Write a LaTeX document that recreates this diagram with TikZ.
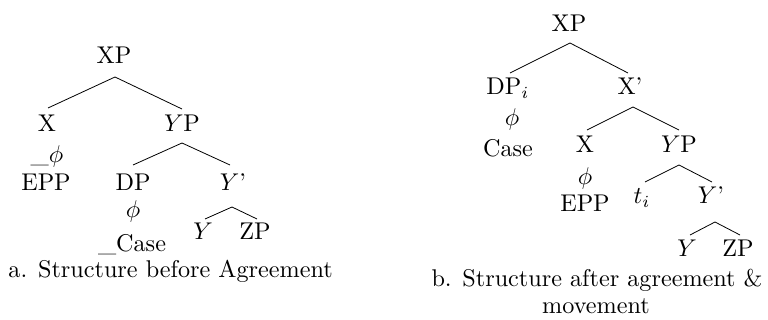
\documentclass[tikz,border=0pt]{standalone}
\begin{document}
\begin{tikzpicture}[x=1pt,y=-1pt,
  lbl/.style={font=\fontsize{10}{10.4}\selectfont, scale=2.42, transform shape, inner sep=0pt, anchor=base},
  branch/.style={line width=0.8pt}]
\useasboundingbox (0,0) rectangle (768,320);

% ---- (a) before agreement ----
\node[lbl] (aXP) at (114,64) {XP};
\node[lbl] (aX)  at (47,132) {X};
\node[lbl] (aYP) at (182,132) {$Y$P};
\node[lbl] (aXf) at (47,163) {\_$\phi$};
\node[lbl] (aXe) at (46,191) {EPP};
\node[lbl] (aDP) at (133,191) {DP};
\node[lbl] (aYb) at (233,191) {$Y$'};
\node[lbl] (aDf) at (133,218) {$\phi$};
\node[lbl] (aDc) at (132,252) {\_Case};
\node[lbl] (aY)  at (203,240) {$Y$};
\node[lbl] (aZP) at (255,240) {ZP};
\node[lbl, anchor=base west] (capA) at (8,278) {a. Structure before Agreement};

\draw[branch] ([xshift=1pt,yshift=-13pt]aXP.base) -- ([xshift=1pt,yshift=24pt]aX.base);
\draw[branch] ([xshift=1pt,yshift=-13pt]aXP.base) -- ([yshift=23pt]aYP.base);
\draw[branch] ([yshift=-11pt]aYP.base) -- ([yshift=26pt]aDP.base);
\draw[branch] ([yshift=-11pt]aYP.base) -- ([xshift=-3pt,yshift=26pt]aYb.base);
\draw[branch] ([xshift=-1pt,yshift=-16pt]aYb.base) -- ([xshift=2pt,yshift=21pt]aY.base);
\draw[branch] ([xshift=-1pt,yshift=-16pt]aYb.base) -- ([xshift=2pt,yshift=21pt]aZP.base);

% ---- (b) after agreement and movement ----
\node[lbl] (bXP) at (569,32) {XP};
\node[lbl] (bDP) at (508,95) {DP$_i$};
\node[lbl] (bXb) at (630,95) {X'};
\node[lbl] (bDf) at (512,126) {$\phi$};
\node[lbl] (bDc) at (508,157) {Case};
\node[lbl] (bX)  at (585,153) {X};
\node[lbl] (bYP) at (679,153) {$Y$P};
\node[lbl] (bXf) at (585,185) {$\phi$};
\node[lbl] (bXe) at (585,212) {EPP};
\node[lbl] (bt)  at (642,204) {$t_i$};
\node[lbl] (bYb) at (711,204) {$Y$'};
\node[lbl] (bY)  at (687,257) {$Y$};
\node[lbl] (bZP) at (738,257) {ZP};
\node[lbl] (capB1) at (597,287) {b. Structure after agreement \&};
\node[lbl] (capB2) at (596,313) {movement};

\draw[branch] ([xshift=1pt,yshift=-11pt]bXP.base) -- ([xshift=2pt,yshift=22pt]bDP.base);
\draw[branch] ([xshift=1pt,yshift=-11pt]bXP.base) -- ([xshift=-2pt,yshift=22pt]bXb.base);
\draw[branch] ([xshift=3pt,yshift=-12pt]bXb.base) -- ([xshift=2pt,yshift=23pt]bX.base);
\draw[branch] ([xshift=3pt,yshift=-12pt]bXb.base) -- ([yshift=23pt]bYP.base);
\draw[branch] ([yshift=-12pt]bYP.base) -- ([xshift=3pt,yshift=22pt]bt.base);
\draw[branch] ([yshift=-12pt]bYP.base) -- ([xshift=1pt,yshift=22pt]bYb.base);
\draw[branch] ([xshift=4pt,yshift=-18pt]bYb.base) -- ([xshift=3pt,yshift=22pt]bY.base);
\draw[branch] ([xshift=4pt,yshift=-18pt]bYb.base) -- ([xshift=2pt,yshift=22pt]bZP.base);
\end{tikzpicture}
\end{document}
